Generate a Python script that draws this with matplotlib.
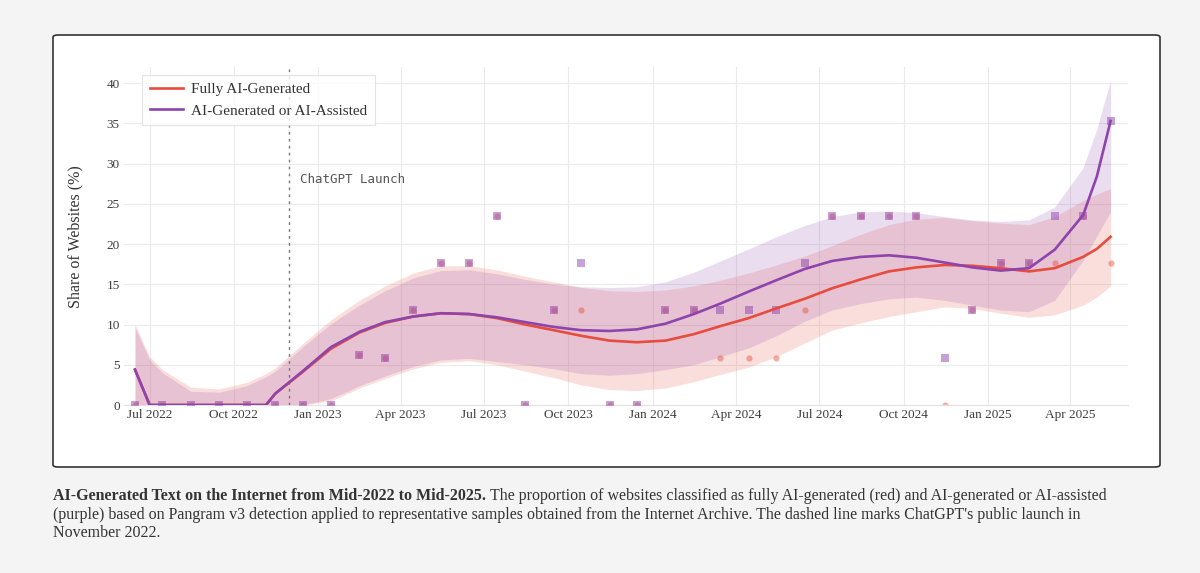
import matplotlib
matplotlib.use("Agg")
import matplotlib.pyplot as plt
import matplotlib.dates as mdates
import pandas as pd
from matplotlib.patches import FancyBboxPatch

# monthly samples (mid-month)
point_dates = ["2022-06-15", "2022-07-15", "2022-08-15", "2022-09-15", "2022-10-15", "2022-11-15",
               "2022-12-15", "2023-01-15", "2023-02-15", "2023-03-15", "2023-04-15", "2023-05-15",
               "2023-06-15", "2023-07-15", "2023-08-15", "2023-09-15", "2023-10-15", "2023-11-15",
               "2023-12-15", "2024-01-15", "2024-02-15", "2024-03-15", "2024-04-15", "2024-05-15",
               "2024-06-15", "2024-07-15", "2024-08-15", "2024-09-15", "2024-10-15", "2024-11-15",
               "2024-12-15", "2025-01-15", "2025-02-15", "2025-03-15", "2025-04-15", "2025-05-15"]
purple_pts = [0, 0, 0, 0, 0, 0, 0, 0, 6.25, 5.9, 11.8, 17.6, 17.6, 23.5, 0, 11.8, 17.6, 0,
              0, 11.8, 11.8, 11.8, 11.8, 11.8, 17.6, 23.5, 23.5, 23.5, 23.5, 5.9, 11.8, 17.6,
              17.6, 23.5, 23.5, 35.3]
red_pts = [0, 0, 0, 0, 0, 0, 0, 0, 6.25, 5.9, 11.8, 17.6, 17.6, 23.5, 0, 11.8, 11.8, 0,
           0, 11.8, 11.8, 5.9, 5.9, 5.9, 11.8, 23.5, 23.5, 23.5, 23.5, 0, 11.8, 17.6,
           17.6, 17.6, 23.5, 17.6]

# smoothed trend + confidence bands
curve_dates = ["2022-06-15", "2022-07-01", "2022-07-15", "2022-08-15", "2022-09-15", "2022-10-15",
               "2022-11-05", "2022-11-15", "2022-12-15", "2023-01-15", "2023-02-15", "2023-03-15",
               "2023-04-15", "2023-05-15", "2023-06-15", "2023-07-15", "2023-08-15", "2023-09-15",
               "2023-10-15", "2023-11-15", "2023-12-15", "2024-01-15", "2024-02-15", "2024-03-15",
               "2024-04-15", "2024-05-15", "2024-06-15", "2024-07-15", "2024-08-15", "2024-09-15",
               "2024-10-15", "2024-11-15", "2024-12-15", "2025-01-15", "2025-02-15", "2025-03-15",
               "2025-04-15", "2025-04-30", "2025-05-15"]
purple_fit = [4.4, 0, 0, 0, 0, 0, 0, 1.4, 4.2, 7.2, 9.1, 10.3, 11.0, 11.4, 11.3, 10.9, 10.3, 9.7,
              9.3, 9.2, 9.4, 10.1, 11.3, 12.6, 14.1, 15.5, 16.9, 17.9, 18.4, 18.6, 18.3, 17.7,
              17.1, 16.7, 17.0, 19.3, 23.6, 28.4, 35.3]
red_fit = [4.4, 0, 0, 0, 0, 0, 0, 1.4, 4.1, 7.0, 9.0, 10.2, 11.0, 11.4, 11.3, 10.8, 10.0, 9.3,
           8.6, 8.0, 7.8, 8.0, 8.8, 9.8, 10.8, 12.0, 13.2, 14.5, 15.6, 16.6, 17.1, 17.4,
           17.3, 17.0, 16.6, 17.0, 18.4, 19.4, 20.9]
purple_lo = [0, 0, 0, 0, 0, 0, 0, 0, 0, 0.8, 2.4, 3.6, 4.8, 5.6, 5.8, 5.4, 5.0, 4.5,
             3.9, 3.7, 3.9, 4.4, 5.0, 6.0, 7.1, 8.6, 10.4, 11.8, 12.6, 13.2, 13.4, 13.0,
             12.4, 11.8, 11.6, 13.0, 18.0, 21.0, 24.0]
purple_hi = [9.7, 5.6, 4.0, 1.7, 1.6, 2.4, 3.5, 4.2, 7.2, 10.1, 12.4, 14.2, 15.8, 16.7, 16.8, 16.3,
             15.6, 15.0, 14.7, 14.6, 14.7, 15.3, 16.5, 17.9, 19.4, 20.9, 22.3, 23.4, 24.0, 24.1,
             23.9, 23.4, 23.0, 22.8, 23.0, 24.6, 29.5, 34.3, 40.4]
red_lo = [0, 0, 0, 0, 0, 0, 0, 0, 0, 0.5, 2.1, 3.3, 4.5, 5.3, 5.5, 5.0, 4.2, 3.4,
          2.5, 1.9, 1.8, 2.1, 2.9, 3.8, 4.7, 6.0, 7.7, 9.3, 10.2, 11.0, 11.6, 12.2,
          12.0, 11.4, 10.9, 11.2, 12.4, 13.4, 14.8]
red_hi = [10.0, 6.0, 4.4, 2.2, 2.0, 2.8, 3.9, 4.6, 7.6, 10.6, 13.0, 14.8, 16.4, 17.3, 17.3, 16.8,
          16.0, 15.3, 14.6, 14.2, 14.1, 14.3, 14.8, 15.5, 16.4, 17.4, 18.5, 19.8, 21.2, 22.4,
          23.1, 23.3, 22.9, 22.6, 22.4, 23.4, 25.4, 26.2, 26.9]

tick_dates = ["2022-07-01", "2022-10-01", "2023-01-01", "2023-04-01", "2023-07-01", "2023-10-01",
              "2024-01-01", "2024-04-01", "2024-07-01", "2024-10-01", "2025-01-01", "2025-04-01"]
launch_date = "2022-11-30"

RED = "#e74c3c"
PURPLE = "#8e44ad"
SERIF = "Liberation Serif"

px = pd.to_datetime(point_dates)
cx = pd.to_datetime(curve_dates)

fig = plt.figure(figsize=(12, 5.73), dpi=100, facecolor="#f4f4f4")

# white card with dark border (behind the axes)
card = FancyBboxPatch((53 / 1200, 1 - 467 / 573), (1160 - 53) / 1200, (467 - 35) / 573,
                      boxstyle="round,pad=0,rounding_size=0.004", transform=fig.transFigure,
                      facecolor="white", edgecolor="#333333", linewidth=1.2, zorder=-10)
fig.patches.append(card)

ax = fig.add_axes([124 / 1200, 1 - 405 / 573, (1128 - 124) / 1200, (405 - 67) / 573])
ax.set_zorder(2)
ax.set_facecolor("white")

ax.fill_between(cx, red_lo, red_hi, color=RED, alpha=0.18, linewidth=0, zorder=1)
ax.fill_between(cx, purple_lo, purple_hi, color=PURPLE, alpha=0.18, linewidth=0, zorder=1)

ax.scatter(px, red_pts, s=20, marker="o", color=RED, alpha=0.45, linewidths=0, zorder=2)
ax.scatter(px, purple_pts, s=34, marker="s", color=PURPLE, alpha=0.5, linewidths=0, zorder=3)

ax.plot(cx, red_fit, color=RED, lw=1.9, label="Fully AI-Generated", zorder=4)
ax.plot(cx, purple_fit, color=PURPLE, lw=1.9, label="AI-Generated or AI-Assisted", zorder=5)

ax.axvline(pd.to_datetime(launch_date), color="#777777", lw=1, ls=(0, (2, 3)), zorder=3)
ax.text(pd.to_datetime(launch_date) + pd.Timedelta(days=12), 28, "ChatGPT Launch",
        family="DejaVu Sans Mono", fontsize=9, color="#555555", va="center", ha="left")

ax.set_xlim(pd.to_datetime("2022-06-03"), pd.to_datetime("2025-06-03"))
ax.set_ylim(0, 42)
ax.set_xticks(pd.to_datetime(tick_dates))
ax.xaxis.set_major_formatter(mdates.DateFormatter("%b %Y"))
ax.set_yticks(range(0, 41, 5))
ax.grid(color="#ebebeb", lw=0.8)
ax.set_axisbelow(True)
for s in ["top", "right", "left"]:
    ax.spines[s].set_visible(False)
ax.spines["bottom"].set_color("#e2e2e2")
ax.tick_params(length=0, labelcolor="#3d3d3d", labelsize=9.5, pad=3)
for lab in ax.get_xticklabels() + ax.get_yticklabels():
    lab.set_family(SERIF)

leg = ax.legend(loc="upper left", bbox_to_anchor=(142 / 1200, 1 - 75 / 573),
                bbox_transform=fig.transFigure, borderaxespad=0, fancybox=False,
                prop={"family": SERIF, "size": 11}, handlelength=2.2, handletextpad=0.5,
                borderpad=0.5, labelspacing=0.5)
leg.get_frame().set_edgecolor("#dddddd")
leg.get_frame().set_linewidth(0.8)
for t in leg.get_texts():
    t.set_color("#333333")

fig.text(75 / 1200, 1 - 237 / 573, "Share of Websites (%)", rotation=90, ha="center", va="center",
         family=SERIF, fontsize=11.5, color="#333333")

# caption with bold lead-in
renderer = fig.canvas.get_renderer()
cap = [
    [("AI-Generated Text on the Internet from Mid-2022 to Mid-2025.", "bold"),
     ("The proportion of websites classified as fully AI-generated (red) and AI-generated or AI-assisted", "normal")],
    [("(purple) based on Pangram v3 detection applied to representative samples obtained from the Internet Archive. The dashed line marks ChatGPT's public launch in", "normal")],
    [("November 2022.", "normal")],
]
ys = [496, 515, 533]
for line, ypix in zip(cap, ys):
    xpos = 53 / 1200
    for txt, w in line:
        t = fig.text(xpos, 1 - ypix / 573, txt, family=SERIF, fontweight=w, fontsize=11.5,
                     color="#333333", va="center", ha="left")
        bb = t.get_window_extent(renderer=renderer)
        xpos = (bb.x1 + 4) / 1200

fig.savefig("out.png", dpi=100, facecolor=fig.get_facecolor())
